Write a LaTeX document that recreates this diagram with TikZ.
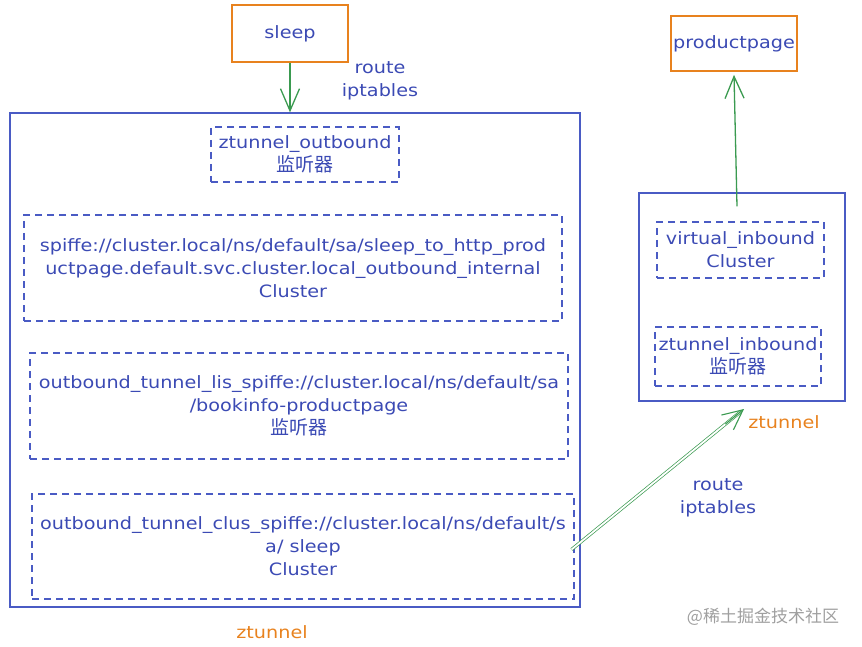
\documentclass[tikz,border=0pt]{standalone}
\usepackage{fontspec}
\setmainfont[FakeStretch=1.13]{DejaVu Sans}
\newfontfamily\cjk{Noto Sans CJK SC}
\usetikzlibrary{arrows.meta,calc}
\definecolor{tblue}{HTML}{3B4AB4}
\definecolor{bblue}{HTML}{4A5BC4}
\definecolor{torange}{HTML}{E8821E}
\definecolor{tgreen}{HTML}{3A9A50}
\newcommand{\jq}[1]{{\fontsize{19}{23}\cjk #1}}
\begin{document}
\begin{tikzpicture}[x=1pt,y=-1pt,
  every node/.style={font=\fontsize{17}{23}\selectfont, text=tblue, align=center, inner sep=0pt},
  appbox/.style={draw=torange, line width=1.6pt, fill=white},
  solidbox/.style={draw=bblue, line width=1.3pt},
  dbox/.style={draw=bblue, line width=1.1pt, dash pattern=on 7pt off 5pt},
  garrow/.style={draw=tgreen, line width=1.3pt, -{Straight Barb[length=22pt,width=19pt,line width=1.3pt]}},
  orlabel/.style={text=torange}
]
\useasboundingbox (0,0) rectangle (862,647);
% boxes
\node[appbox, minimum width=116pt, minimum height=57pt] (sleep) at (290,33.5) {sleep};
\node[appbox, minimum width=126pt, minimum height=55pt] (pp) at (734,43.5) {productpage};
\node[solidbox, minimum width=570pt, minimum height=494pt] (big) at (295,360) {};
\node[solidbox, minimum width=206pt, minimum height=208pt] (rbox) at (742,297) {};
\node[dbox, minimum width=188pt, minimum height=55pt] (zo) at (305,154.5) {ztunnel\_outbound\\\jq{监听器}};
\node[dbox, minimum width=538pt, minimum height=106pt] (spiffe) at (293,268) {spiffe://cluster.local/ns/default/sa/sleep\_to\_http\_prod\\uctpage.default.svc.cluster.local\_outbound\_internal\\Cluster};
\node[dbox, minimum width=538pt, minimum height=106pt] (lis) at (299,406) {outbound\_tunnel\_lis\_spiffe://cluster.local/ns/default/sa\\/bookinfo-productpage\\\jq{监听器}};
\node[dbox, minimum width=542pt, minimum height=105pt] (clus) at (303,546.5) {outbound\_tunnel\_clus\_spiffe://cluster.local/ns/default/s\\a/ sleep\\Cluster};
\node[dbox, minimum width=167pt, minimum height=56pt] (vi) at (740.5,250) {virtual\_inbound\\Cluster};
\node[dbox, minimum width=166pt, minimum height=59pt] (zi) at (738,356.5) {ztunnel\_inbound\\\jq{监听器}};
% labels
\node[orlabel] (zl1) at (272,632) {ztunnel};
\node[orlabel] (zl2) at (784,422) {ztunnel};
\node (r1) at (380,81) {route\\iptables};
\node (r2) at (718,498) {route\\iptables};
\node[text=gray!75, font=\fontsize{17}{20}\cjk] (wm) at (763,617) {@稀土掘金技术社区};
% connectors
\draw[garrow] (sleep.south) -- (sleep.south |- big.north);
\coordinate (vstart) at ($(rbox.north)+(-5,14)$);
\draw[garrow] (vstart) -- ($(pp.south)+(0,3)$);
\coordinate (zarrow) at (744,409);
\draw[draw=tgreen, line width=0.7pt, double=white, double distance=1.8pt] ($(clus.east)+(-3,3)$) -- ($(zarrow)!4pt!(clus.east)$);
\draw[draw=tgreen, line width=1.1pt, -{Straight Barb[length=20pt,width=19pt,line width=1.1pt]}] ($(zarrow)!24pt!(clus.east)$) -- (zarrow);
\end{tikzpicture}
\end{document}
